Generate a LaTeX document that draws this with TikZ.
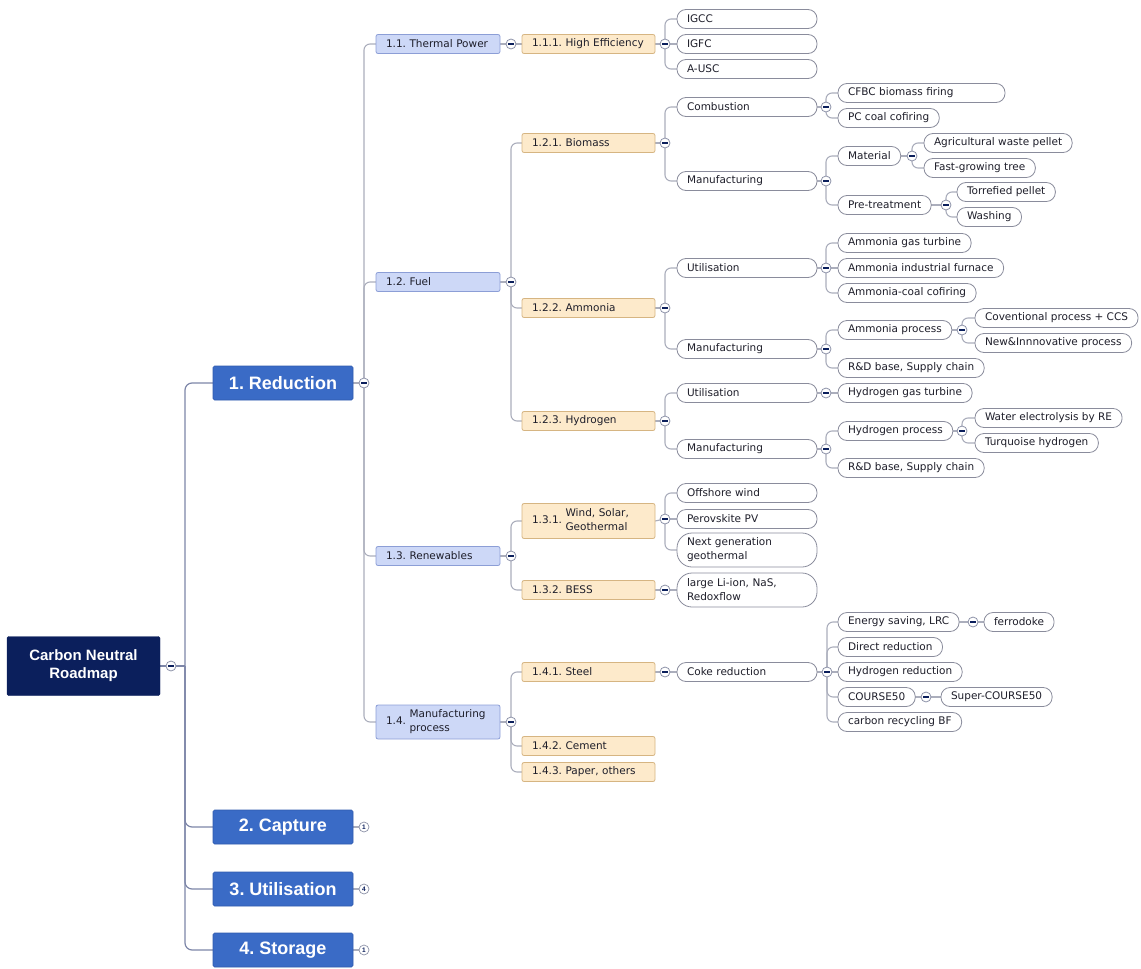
\documentclass[tikz,border=0pt]{standalone}
\usepackage{fontspec}
\setmainfont{DejaVu Sans}
\newfontfamily\headfont{Liberation Sans}
\pgfdeclarelayer{bg}
\pgfsetlayers{bg,main}
\definecolor{navy}{HTML}{0B1F5C}
\definecolor{mainblue}{HTML}{3A6BC6}
\definecolor{mainline}{HTML}{2F5AAE}
\definecolor{ltwofill}{HTML}{CDD8F7}
\definecolor{ltwoline}{HTML}{8C9ED6}
\definecolor{lthreefill}{HTML}{FDEACB}
\definecolor{lthreeline}{HTML}{D6B582}
\definecolor{leafline}{HTML}{8A8C9C}
\definecolor{togline}{HTML}{8D92A8}
\definecolor{linkc}{HTML}{ABAEBC}
\definecolor{trunkc}{HTML}{7D86A8}
\definecolor{ink}{HTML}{1E1E2A}
\begin{document}
\frenchspacing
\begin{tikzpicture}[x=1pt,y=-1pt,
  txt/.style={font=\fontsize{10.5}{14}\selectfont\frenchspacing, text=ink},
  box/.style={txt, anchor=west, minimum height=19pt, inner ysep=0pt, outer sep=0pt},
  ltwo/.style={box, fill=ltwofill, draw=ltwoline, line width=0.8pt, rounded corners=2pt, inner xsep=10pt, text width=104pt, align=left},
  lthree/.style={box, fill=lthreefill, draw=lthreeline, line width=0.8pt, rounded corners=2pt, inner xsep=10pt, text width=113pt, align=left},
  leaf/.style={box, fill=white, draw=leafline, line width=0.8pt, rounded corners=9pt, inner xsep=10pt},
  leafw/.style={leaf, text width=#1, align=left},
  leafw/.default=120pt,
  tall/.style={minimum height=34pt, rounded corners=15pt},
  rootbox/.style={anchor=west, fill=navy, draw=navy, rounded corners=1.5pt, text=white, font=\headfont\bfseries\fontsize{15}{18}\selectfont, align=center, minimum width=153pt, minimum height=59pt, inner sep=0pt, outer sep=0pt},
  mainbox/.style={anchor=west, fill=mainblue, draw=mainline, line width=0.6pt, rounded corners=1.5pt, text=white, font=\headfont\bfseries\fontsize{18}{20}\selectfont, minimum width=140pt, minimum height=34pt, inner sep=0pt, outer sep=0pt},
  tog/.style={circle, draw=togline, fill=white, line width=0.8pt, minimum size=10pt, inner sep=0pt,
    path picture={\draw[navy, line width=1.3pt] ([xshift=-2.6pt]path picture bounding box.center) -- ([xshift=2.6pt]path picture bounding box.center);}},
  cnum/.style={circle, draw=togline, fill=white, line width=0.7pt, minimum size=10pt, inner sep=0pt, text=navy, font=\headfont\bfseries\fontsize{6.5}{7}\selectfont},
  link/.style={draw=linkc, line width=1.1pt, rounded corners=6pt},
  trunk/.style={draw=trunkc, line width=1.2pt, rounded corners=7pt}
]
\useasboundingbox (0,0) rectangle (1141,969);

% ---------- root and main branches ----------
\node[rootbox] (root) at (7,666) {Carbon Neutral\\Roadmap};
\node[tog] (c0) at (171,666) {};
\coordinate (s0) at (185,666);
\node[mainbox] (n1) at (213,383) {1. Reduction};
\node[mainbox] (n2) at (213,827) {2. Capture};
\node[mainbox] (n3) at (213,889) {3. Utilisation};
\node[mainbox] (n4) at (213,950) {4. Storage};
\node[tog] (c1) at (364,383) {};
\node[cnum] (c2) at (364,827) {1};
\node[cnum] (c3) at (364,889) {4};
\node[cnum] (c4) at (364,950) {1};

% ---------- 1.1 Thermal power ----------
\node[ltwo] (n11) at (376,44) {1.1. Thermal Power};
\node[tog] (c11) at (511,44) {};
\node[lthree] (n111) at (522,44) {1.1.1. High Efficiency};
\node[tog] (c111) at (665,44) {};
\node[leafw] (igcc) at (677,19) {IGCC};
\node[leafw] (igfc) at (677,44) {IGFC};
\node[leafw] (ausc) at (677,69) {A-USC};

% ---------- 1.2 Fuel ----------
\node[ltwo] (n12) at (376,282) {1.2. Fuel};
\node[tog] (c12) at (511,282) {};

% Biomass
\node[lthree] (n121) at (522,143) {1.2.1. Biomass};
\node[tog] (c121) at (665,143) {};
\node[leafw] (bcomb) at (677,107) {Combustion};
\node[tog] (cbc) at (826,107) {};
\node[leafw=147pt] (cfbc) at (838,93) {CFBC biomass firing};
\node[leaf] (pccf) at (838,118) {PC coal cofiring};
\node[leafw] (bman) at (677,181) {Manufacturing};
\node[tog] (cbm) at (826,181) {};
\node[leaf] (mat) at (838,156) {Material};
\node[tog] (cmat) at (912,156) {};
\node[leaf] (agri) at (924,143) {Agricultural waste pellet};
\node[leaf] (fast) at (924,168) {Fast-growing tree};
\node[leaf] (pret) at (838,205) {Pre-treatment};
\node[tog] (cpre) at (946,205) {};
\node[leaf] (torr) at (957,192) {Torrefied pellet};
\node[leaf] (wash) at (957,217) {Washing};

% Ammonia
\node[lthree] (n122) at (522,308) {1.2.2. Ammonia};
\node[tog] (c122) at (665,308) {};
\node[leafw] (autil) at (677,268) {Utilisation};
\node[tog] (cau) at (826,268) {};
\node[leaf] (agt) at (838,243) {Ammonia gas turbine};
\node[leaf] (aif) at (838,268) {Ammonia industrial furnace};
\node[leaf] (acc) at (838,293) {Ammonia-coal cofiring};
\node[leafw] (aman) at (677,349) {Manufacturing};
\node[tog] (cam) at (826,349) {};
\node[leaf] (aproc) at (838,330) {Ammonia process};
\node[tog] (cap) at (962,330) {};
\node[leaf] (conv) at (975,318) {Coventional process + CCS};
\node[leaf] (newi) at (975,343) {New\&Innnovative process};
\node[leaf] (ard) at (838,368) {R\&D base, Supply chain};

% Hydrogen
\node[lthree] (n123) at (522,421) {1.2.3. Hydrogen};
\node[tog] (c123) at (665,421) {};
\node[leafw] (hutil) at (677,393) {Utilisation};
\node[tog] (chu) at (826,393) {};
\node[leaf] (hgt) at (838,393) {Hydrogen gas turbine};
\node[leafw] (hman) at (677,449) {Manufacturing};
\node[tog] (chm) at (826,449) {};
\node[leaf] (hproc) at (838,431) {Hydrogen process};
\node[tog] (chp) at (962,431) {};
\node[leaf] (wele) at (975,418) {Water electrolysis by RE};
\node[leaf] (turq) at (975,443) {Turquoise hydrogen};
\node[leaf] (hrd) at (838,468) {R\&D base, Supply chain};

% ---------- 1.3 Renewables ----------
\node[ltwo] (n13) at (376,556) {1.3. Renewables};
\node[tog] (c13) at (511,556) {};
\node[lthree, minimum height=35pt] (n131) at (522,521) {1.3.1. \begin{tabular}{@{}l@{}}Wind, Solar,\\Geothermal\end{tabular}};
\node[tog] (c131) at (665,519) {};
\node[leafw] (offw) at (677,493) {Offshore wind};
\node[leafw] (pero) at (677,519) {Perovskite PV};
\node[leafw, tall] (ngeo) at (677,550) {Next generation\\geothermal};
\node[lthree] (n132) at (522,590) {1.3.2. BESS};
\node[tog] (c132) at (665,590) {};
\node[leafw, tall] (liion) at (677,590) {large Li-ion, NaS,\\Redoxflow};

% ---------- 1.4 Manufacturing process ----------
\node[ltwo, minimum height=34pt] (n14) at (376,722) {1.4. \begin{tabular}{@{}l@{}}Manufacturing\\process\end{tabular}};
\node[tog] (c14) at (511,722) {};
\node[lthree] (n141) at (522,672) {1.4.1. Steel};
\node[tog] (c141) at (665,672) {};
\node[leafw] (coke) at (677,672) {Coke reduction};
\node[tog] (cck) at (827,672) {};
\node[leaf] (esav) at (838,622) {Energy saving, LRC};
\node[tog] (ces) at (973,622) {};
\node[leaf] (ferr) at (984,622) {ferrodoke};
\node[leaf] (dred) at (838,647) {Direct reduction};
\node[leaf] (hred) at (838,672) {Hydrogen reduction};
\node[leaf] (c50) at (838,697) {COURSE50};
\node[tog] (cc50) at (926,697) {};
\node[leaf] (sc50) at (941,697) {Super-COURSE50};
\node[leaf] (crbf) at (838,722) {carbon recycling BF};
\node[lthree] (n142) at (522,746) {1.4.2. Cement};
\node[lthree] (n143) at (522,772) {1.4.3. Paper, others};

% ---------- connectors ----------
\begin{pgfonlayer}{bg}
\draw[trunk] (root.east) -- (c0.center) -- (s0);
\foreach \q in {n1,n2,n3,n4} \draw[trunk] (s0) |- (\q.west);
\foreach \p/\q in {n1/c1,n2/c2,n3/c3,n4/c4} \draw[link] (\p.east) -- (\q.center);
\foreach \q in {n11,n12,n13,n14} \draw[link] (c1.center) |- (\q.west);
% 1.1
\draw[link] (n11.east) -- (c11.center) -- (n111.west);
\draw[link] (n111.east) -- (c111.center);
\foreach \q in {igcc,ausc} \draw[link] (c111.center) |- (\q.west);
\draw[link] (c111.center) -- (igfc.west);
% 1.2
\draw[link] (n12.east) -- (c12.center);
\foreach \q in {n121,n122,n123} \draw[link] (c12.center) |- (\q.west);
\draw[link] (n121.east) -- (c121.center);
\foreach \q in {bcomb,bman} \draw[link] (c121.center) |- (\q.west);
\draw[link] (bcomb.east) -- (cbc.center);
\foreach \q in {cfbc,pccf} \draw[link] (cbc.center) |- (\q.west);
\draw[link] (bman.east) -- (cbm.center);
\foreach \q in {mat,pret} \draw[link] (cbm.center) |- (\q.west);
\draw[link] (mat.east) -- (cmat.center);
\foreach \q in {agri,fast} \draw[link] (cmat.center) |- (\q.west);
\draw[link] (pret.east) -- (cpre.center);
\foreach \q in {torr,wash} \draw[link] (cpre.center) |- (\q.west);
\draw[link] (n122.east) -- (c122.center);
\foreach \q in {autil,aman} \draw[link] (c122.center) |- (\q.west);
\draw[link] (autil.east) -- (cau.center);
\foreach \q in {agt,acc} \draw[link] (cau.center) |- (\q.west);
\draw[link] (cau.center) -- (aif.west);
\draw[link] (aman.east) -- (cam.center);
\foreach \q in {aproc,ard} \draw[link] (cam.center) |- (\q.west);
\draw[link] (aproc.east) -- (cap.center);
\foreach \q in {conv,newi} \draw[link] (cap.center) |- (\q.west);
\draw[link] (n123.east) -- (c123.center);
\foreach \q in {hutil,hman} \draw[link] (c123.center) |- (\q.west);
\draw[link] (hutil.east) -- (chu.center) -- (hgt.west);
\draw[link] (hman.east) -- (chm.center);
\foreach \q in {hproc,hrd} \draw[link] (chm.center) |- (\q.west);
\draw[link] (hproc.east) -- (chp.center);
\foreach \q in {wele,turq} \draw[link] (chp.center) |- (\q.west);
% 1.3
\draw[link] (n13.east) -- (c13.center);
\foreach \q in {n131,n132} \draw[link] (c13.center) |- (\q.west);
\draw[link] (n131.east) -- (c131.center);
\foreach \q in {offw,ngeo} \draw[link] (c131.center) |- (\q.west);
\draw[link] (c131.center) -- (pero.west);
\draw[link] (n132.east) -- (c132.center) -- (liion.west);
% 1.4
\draw[link] (n14.east) -- (c14.center);
\foreach \q in {n141,n142,n143} \draw[link] (c14.center) |- (\q.west);
\draw[link] (n141.east) -- (c141.center) -- (coke.west);
\draw[link] (coke.east) -- (cck.center);
\foreach \q in {esav,dred,c50,crbf} \draw[link] (cck.center) |- (\q.west);
\draw[link] (cck.center) -- (hred.west);
\draw[link] (esav.east) -- (ces.center) -- (ferr.west);
\draw[link] (c50.east) -- (cc50.center) -- (sc50.west);
\end{pgfonlayer}
\end{tikzpicture}
\end{document}
